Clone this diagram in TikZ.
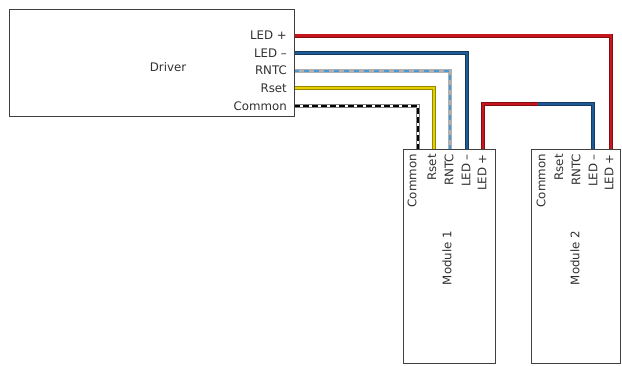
\documentclass[tikz,border=0pt]{standalone}
\usepackage{fontspec}
\setmainfont{DejaVu Sans}
\definecolor{txt}{HTML}{303030}
\definecolor{boxc}{HTML}{404040}
\definecolor{wred}{HTML}{C8161E}
\definecolor{wblue}{HTML}{1D5A96}
\definecolor{wyel}{HTML}{E6CF00}
\definecolor{wlblue}{HTML}{4A9AD8}
\definecolor{wgrey}{HTML}{B0B0B0}
\begin{document}
\begin{tikzpicture}[x=1pt,y=-1pt,
  font=\fontsize{11.8}{14}\selectfont,
  lbl/.style={text=txt, inner sep=0pt},
  boxn/.style={draw=boxc, line width=1.1pt, fill=none, inner sep=0pt, anchor=north west},
  wire/.style={draw=#1!65!black, line width=4pt, postaction={draw=#1, line width=2.3pt}},
  ntcwire/.style={draw=wgrey, line width=4pt, postaction={draw=wlblue, line width=2pt, dash pattern=on 5pt off 5pt}},
  comwire/.style={draw=gray, line width=4pt, postaction={draw=white, line width=2.4pt}, postaction={draw=black, line width=2.4pt, dash pattern=on 6pt off 3pt}}]
\useasboundingbox (0,0) rectangle (622,365);
% pins
\coordinate (d1) at (294,35.5);
\coordinate (d2) at (294,53);
\coordinate (d3) at (294,70.7);
\coordinate (d4) at (294,88.3);
\coordinate (d5) at (294,106);
\coordinate (p1c) at (418,149);
\coordinate (p1r) at (434,149);
\coordinate (p1n) at (450,149);
\coordinate (p1m) at (467,149);
\coordinate (p1p) at (483,149);
\coordinate (p2m) at (593,149);
\coordinate (p2p) at (611,149);
\coordinate (mid) at (538,104);
% wires
\draw[wire=wred] (d1) -| (p2p);
\draw[wire=wblue] (d2) -| (p1m);
\draw[ntcwire] (d3) -| (p1n);
\draw[wire=wyel] (d4) -| (p1r);
\draw[comwire] (d5) -| (p1c);
\draw[wire=wred] (p1p) |- (mid);
\draw[wire=wblue] (mid) -| (p2m);
% boxes
\node[boxn, minimum width=285pt, minimum height=107pt] (drv) at (9,9) {};
\node[boxn, minimum width=92pt, minimum height=214pt] (m1) at (403,149) {};
\node[boxn, minimum width=89pt, minimum height=214pt] (m2) at (531,149) {};
% driver labels
\node[lbl] (drvname) at (168,67) {Driver};
\node[lbl, anchor=east] (dl1) at (287,35.5) {LED +};
\node[lbl, anchor=east] (dl2) at (287,53) {LED –};
\node[lbl, anchor=east] (dl3) at (287,70.7) {RNTC};
\node[lbl, anchor=east] (dl4) at (287,88.3) {Rset};
\node[lbl, anchor=east] (dl5) at (287,106) {Common};
% module 1 labels
\node[lbl, rotate=90, anchor=east] (a1) at (412,154) {Common};
\node[lbl, rotate=90, anchor=east] (a2) at (432,154) {Rset};
\node[lbl, rotate=90, anchor=east] (a3) at (449,154) {RNTC};
\node[lbl, rotate=90, anchor=east] (a4) at (466,154) {LED –};
\node[lbl, rotate=90, anchor=east] (a5) at (482,154) {LED +};
\node[lbl, rotate=90] (m1name) at (447,258) {Module 1};
% module 2 labels
\node[lbl, rotate=90, anchor=east] (b1) at (541,154) {Common};
\node[lbl, rotate=90, anchor=east] (b2) at (559,154) {Rset};
\node[lbl, rotate=90, anchor=east] (b3) at (576,154) {RNTC};
\node[lbl, rotate=90, anchor=east] (b4) at (593,154) {LED –};
\node[lbl, rotate=90, anchor=east] (b5) at (609,154) {LED +};
\node[lbl, rotate=90] (m2name) at (575,258) {Module 2};
\end{tikzpicture}
\end{document}
